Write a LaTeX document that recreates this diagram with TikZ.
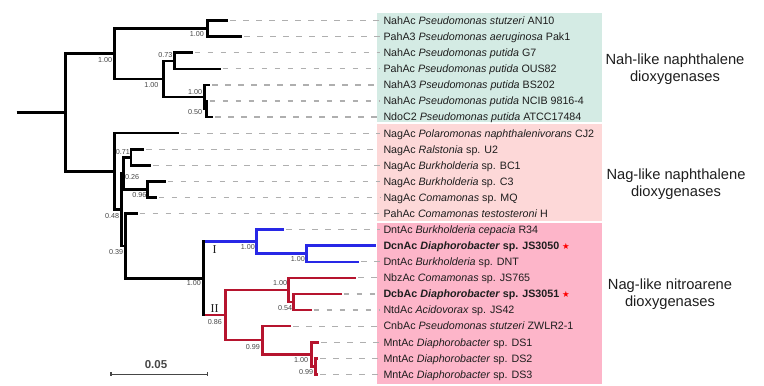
\documentclass[tikz,border=0pt]{standalone}
\usepackage{fontspec}
\setmainfont{Liberation Sans}
\newfontfamily\serifI{Liberation Serif}
\newfontfamily\symf{DejaVu Sans}
\usetikzlibrary{calc}
\definecolor{boxnah}{RGB}{212,235,228}
\definecolor{boxnag}{RGB}{253,216,216}
\definecolor{boxnit}{RGB}{253,181,201}
\definecolor{cladeI}{RGB}{40,40,230}
\definecolor{cladeII}{RGB}{182,20,46}
\definecolor{dashgray}{RGB}{175,175,175}
\definecolor{txt}{RGB}{30,30,30}
\definecolor{bsgray}{RGB}{70,70,70}
\definecolor{sbgray}{RGB}{70,70,70}
\begin{document}
\begin{tikzpicture}[x=1pt,y=-1pt,
  br/.style={line width=2.6pt, line join=miter},
  dsh/.style={draw=dashgray, line width=1.2pt, dash pattern=on 5.5pt off 7.5pt, shorten >=3pt, shorten <=2pt},
  leaf/.style={anchor=base west, inner sep=0pt, font=\fontsize{10.7}{12}\selectfont, text=txt},
  bs/.style={anchor=east, inner sep=0pt, font=\fontsize{7.2}{8}\selectfont, text=bsgray},
  bsw/.style={anchor=west, inner sep=0pt, font=\fontsize{7.2}{8}\selectfont, text=bsgray},
  grp/.style={align=center, font=\fontsize{14.7}{17}\selectfont, text=txt, inner sep=0pt},
  cl/.style={inner sep=0pt, font=\serifI\fontsize{12}{12}\selectfont, text=txt},
  star/.style={anchor=base west, inner sep=0pt, text=red, font=\symf\fontsize{8.5}{9}\selectfont}
]
\useasboundingbox (0,0) rectangle (764,386);
% group boxes
\fill[boxnah] (377,12.5) rectangle (601.5,121.5);
\fill[boxnag] (377,123.5) rectangle (601.5,221);
\fill[boxnit] (377,223) rectangle (601.5,384);

% leaf tips
\coordinate (L1) at (228.3,20.6);
\coordinate (L2) at (242.3,36.68);
\coordinate (L3) at (192.7,52.76);
\coordinate (L4) at (220.7,68.84);
\coordinate (L5) at (210,84.92);
\coordinate (L6) at (207.5,101.0);
\coordinate (L7) at (213.3,117.08);
\coordinate (L8) at (179,133.16);
\coordinate (L9) at (144.3,149.24);
\coordinate (L10) at (151,165.32);
\coordinate (L11) at (165.7,181.4);
\coordinate (L12) at (156.7,197.48);
\coordinate (L13) at (137.7,213.56);
\coordinate (L14) at (284.3,229.64);
\coordinate (L15) at (376,245.72);
\coordinate (L16) at (359.3,261.8);
\coordinate (L17) at (356,277.88);
\coordinate (L18) at (341.7,293.96);
\coordinate (L19) at (311.7,310.04);
\coordinate (L20) at (291,326.12);
\coordinate (L21) at (319.3,342.2);
\coordinate (L22) at (318,358.28);
\coordinate (L23) at (318,374.36);

% internal nodes
\coordinate (N12) at (207.7,28.64);
\coordinate (N34) at (174.3,60.8);
\coordinate (N67) at (206.5,109.04);
\coordinate (N567) at (204.3,96.98);
\coordinate (NB) at (163.3,78.89);
\coordinate (NAH) at (114.3,53.77);
\coordinate (N910) at (131,157.28);
\coordinate (N1112) at (147.3,189.44);
\coordinate (N026) at (123.5,173.36);
\coordinate (N1516) at (306.7,253.76);
\coordinate (NI) at (256.7,241.7);
\coordinate (N1819) at (293.3,302);
\coordinate (N17) at (288.3,289.94);
\coordinate (N2223) at (315.7,366.32);
\coordinate (N21) at (311.7,354.26);
\coordinate (N20) at (262.3,340.19);
\coordinate (NII) at (225.3,315.07);
\coordinate (NITRO) at (203.3,278.39);
\coordinate (N039) at (125.5,245.98);
\coordinate (N048) at (121.7,209.67);
\coordinate (NNAG) at (114.3,171.4);
\coordinate (ROOT) at (65.7,112.6);
\coordinate (R0) at (16.7,112.6);

% leaf labels
\node[leaf] (t1) at (383.3,24.45) {NahAc \textit{Pseudomonas stutzeri} AN10};
\node[leaf] (t2) at (383.3,40.53) {PahA3 \textit{Pseudomonas aeruginosa} Pak1};
\node[leaf] (t3) at (383.3,56.61) {NahAc \textit{Pseudomonas putida} G7};
\node[leaf] (t4) at (383.3,72.69) {PahAc \textit{Pseudomonas putida} OUS82};
\node[leaf] (t5) at (383.3,88.77) {NahA3 \textit{Pseudomonas putida} BS202};
\node[leaf] (t6) at (383.3,104.85) {NahAc \textit{Pseudomonas putida} NCIB 9816-4};
\node[leaf] (t7) at (383.3,120.93) {NdoC2 \textit{Pseudomonas putida} ATCC17484};
\node[leaf] (t8) at (383.3,137.01) {NagAc \textit{Polaromonas naphthalenivorans} CJ2};
\node[leaf] (t9) at (383.3,153.09) {NagAc \textit{Ralstonia} sp. U2};
\node[leaf] (t10) at (383.3,169.17) {NagAc \textit{Burkholderia} sp. BC1};
\node[leaf] (t11) at (383.3,185.25) {NagAc \textit{Burkholderia} sp. C3};
\node[leaf] (t12) at (383.3,201.33) {NagAc \textit{Comamonas} sp. MQ};
\node[leaf] (t13) at (383.3,217.41) {PahAc \textit{Comamonas testosteroni} H};
\node[leaf] (t14) at (383.3,233.49) {DntAc \textit{Burkholderia cepacia} R34};
\node[leaf] (t15) at (383.3,249.57) {\bfseries DcnAc \textit{Diaphorobacter} sp. JS3050};
\node[leaf] (t16) at (383.3,265.65) {DntAc \textit{Burkholderia} sp. DNT};
\node[leaf] (t17) at (383.3,281.73) {NbzAc \textit{Comamonas} sp. JS765};
\node[leaf] (t18) at (383.3,297.81) {\bfseries DcbAc \textit{Diaphorobacter} sp. JS3051};
\node[leaf] (t19) at (383.3,313.89) {NtdAc \textit{Acidovorax} sp. JS42};
\node[leaf] (t20) at (383.3,329.97) {CnbAc \textit{Pseudomonas stutzeri} ZWLR2-1};
\node[leaf] (t21) at (383.3,346.05) {MntAc \textit{Diaphorobacter} sp. DS1};
\node[leaf] (t22) at (383.3,362.13) {MntAc \textit{Diaphorobacter} sp. DS2};
\node[leaf] (t23) at (383.3,378.21) {MntAc \textit{Diaphorobacter} sp. DS3};
\node[star] (s15) at ($(t15.base east)+(2.5,0)$) {★};
\node[star] (s18) at ($(t18.base east)+(2.5,0)$) {★};

% dashed leaders
\foreach \i in {1,...,14,16,17,18,19,20,21,22,23}{
  \draw[dsh] (L\i) -- (L\i -| t\i.west);
}

% black tree
\draw[br] (R0) -- (ROOT);
\draw[br] (ROOT) |- (NAH);
\draw[br] (ROOT) |- (NNAG);
\draw[br] (NAH) |- (N12);
\draw[br] (NAH) |- (NB);
\draw[br] (N12) |- (L1);
\draw[br] (N12) |- (L2);
\draw[br] (NB) |- (N34);
\draw[br] (NB) |- (N567);
\draw[br] (N34) |- (L3);
\draw[br] (N34) |- (L4);
\draw[br] (N567) |- (L5);
\draw[br] (N567) |- (N67);
\draw[br] (N67) |- (L6);
\draw[br] (N67) |- (L7);
\draw[br] (NNAG) |- (L8);
\draw[br] (NNAG) |- (N048);
\draw[br] (N048) |- (N026);
\draw[br] (N048) |- (N039);
\draw[br] (N026) |- (N910);
\draw[br] (N026) |- (N1112);
\draw[br] (N910) |- (L9);
\draw[br] (N910) |- (L10);
\draw[br] (N1112) |- (L11);
\draw[br] (N1112) |- (L12);
\draw[br] (N039) |- (L13);
\draw[br] (N039) |- (NITRO);
% clade I (blue)
\draw[br, cladeI] (NITRO |- NI) -- (NI);
\draw[br, cladeI] (NI) |- (L14);
\draw[br, cladeI] (NI) |- (N1516);
\draw[br, cladeI] (N1516) |- (L15);
\draw[br, cladeI] (N1516) |- (L16);
% clade II (red)
\draw[br, cladeII] (NITRO |- NII) -- (NII);
\draw[br, cladeII] (NII) |- (N17);
\draw[br, cladeII] (NII) |- (N20);
\draw[br, cladeII] (N17) |- (L17);
\draw[br, cladeII] (N17) |- (N1819);
\draw[br, cladeII] (N1819) |- (L18);
\draw[br, cladeII] (N1819) |- (L19);
\draw[br, cladeII] (N20) |- (L20);
\draw[br, cladeII] (N20) |- (N21);
\draw[br, cladeII] (N21) |- (L21);
\draw[br, cladeII] (N21) |- (N2223);
\draw[br, cladeII] (N2223) |- (L22);
\draw[br, cladeII] (N2223) |- (L23);
\draw[br, line cap=rect] (NITRO |- NI) -- (NITRO |- NII);

% bootstrap values
\node[bs] (b1) at (112.3,60) {1.00};
\node[bs] (b2) at (204,34) {1.00};
\node[bs] (b3) at (172.7,55) {0.73};
\node[bs] (b4) at (158.7,85) {1.00};
\node[bs] (b5) at (202.3,91.7) {1.00};
\node[bs] (b6) at (202.3,111.7) {0.50};
\node[bs] (b7) at (130,151.7) {0.71};
\node[bsw] (b8) at (125,176.7) {0.26};
\node[bs] (b9) at (146.7,195) {0.96};
\node[bs] (b10) at (119.3,216) {0.48};
\node[bs] (b11) at (123.3,251.7) {0.39};
\node[bs] (b12) at (201,283.3) {1.00};
\node[bs] (b13) at (255,247.3) {1.00};
\node[bs] (b14) at (305,259) {1.00};
\node[bsw] (b15) at (207.7,321.7) {0.86};
\node[bs] (b16) at (287.3,283.3) {1.00};
\node[bs] (b17) at (292.3,308.3) {0.54};
\node[bs] (b18) at (260,346.7) {0.99};
\node[bs] (b19) at (308.3,360) {1.00};
\node[bs] (b20) at (313.3,371.7) {0.99};

% clade names
\node[cl] (cI) at (214.5,249.3) {I};
\node[cl] (cII) at (214.5,308.3) {II};

% group labels
\node[grp] (g1) at (675,69) {Nah-like naphthalene\\dioxygenases};
\node[grp] (g2) at (676,184.2) {Nag-like naphthalene\\dioxygenases};
\node[grp] (g3) at (670,294) {Nag-like nitroarene\\dioxygenases};

% scale bar
\coordinate (sbL) at (111,374.3);
\coordinate (sbR) at (207.7,374.3);
\draw[line width=1.5pt, sbgray] (sbL) -- (sbR);
\draw[line width=1.2pt, sbgray] ([yshift=2pt]sbL) -- ([yshift=-2pt]sbL);
\draw[line width=1.2pt, sbgray] ([yshift=2pt]sbR) -- ([yshift=-2pt]sbR);
\node[inner sep=0pt, text=sbgray, font=\bfseries\fontsize{11.5}{12}\selectfont] (sbt) at (156,365) {0.05};
\end{tikzpicture}
\end{document}
